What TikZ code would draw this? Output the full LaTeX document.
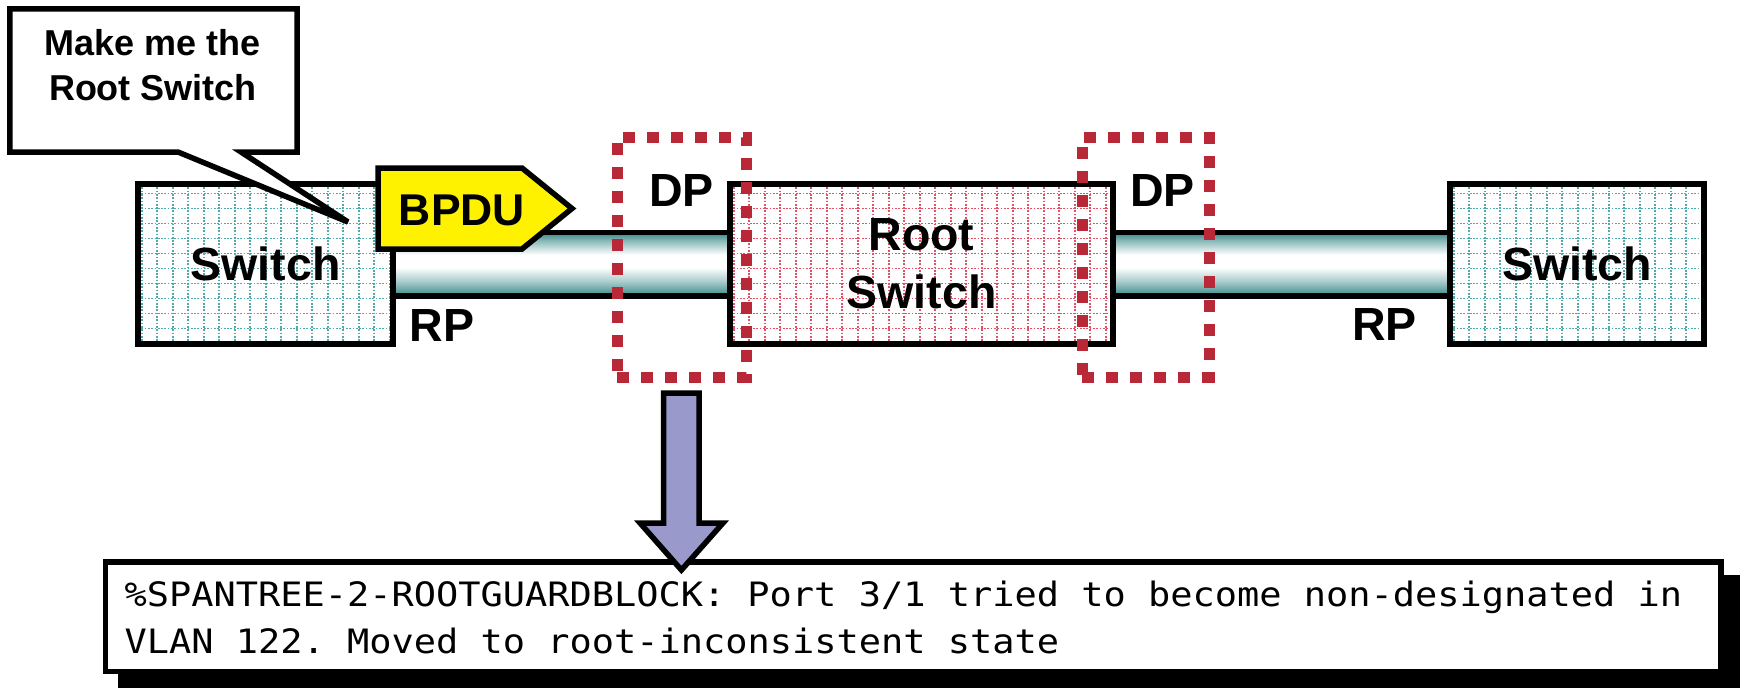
\documentclass[tikz,border=0pt]{standalone}
\usepackage{fontspec}
\setmainfont{Liberation Sans}
\newfontfamily\msgfont{DejaVu Sans Mono}[FakeStretch=1.1]
\usetikzlibrary{calc}
\definecolor{pteal}{RGB}{55,135,135}
\definecolor{gridteal}{RGB}{80,170,170}
\definecolor{gridred}{RGB}{225,80,100}
\definecolor{dpred}{RGB}{185,40,55}
\definecolor{arrowfill}{RGB}{153,153,204}
% visible range of a TikZ custom shading is 25bp..75bp (bottom..top)
\pgfdeclareverticalshading{pipeshade}{100bp}{color(0bp)=(pteal); color(25bp)=(pteal); color(36bp)=(pteal!45!white); color(47.5bp)=(white); color(57.5bp)=(white); color(68bp)=(pteal!55!white); color(75bp)=(pteal); color(100bp)=(pteal)}
\pgfdeclarelayer{bg}
\pgfsetlayers{bg,main}
\tikzset{
  blk/.style={draw=black, line width=2.2pt},
  gridline/.style={line width=0.64pt, dash pattern=on 0.68pt off 0.64pt},
  boxbase/.style={blk, rectangle, fill=white, inner sep=0pt, outer sep=0pt, align=center,
    font=\fontsize{18.6}{23.2}\selectfont\bfseries},
  gridded/.style={path picture={
    \foreach \i in {0,...,26} {\draw[gridline, #1] ($(path picture bounding box.north west)+(3.7+15.5*\i,0)$) -- ++(0,170);}
    \foreach \j in {0,...,11} {\draw[gridline, #1] ($(path picture bounding box.north west)+(0,9.3+15*\j)$) -- ++(420,0);}
  }},
  tealbox/.style={boxbase, gridded=gridteal},
  redbox/.style={boxbase, gridded=gridred},
  dpbox/.style={draw=dpred, line width=4.4pt, dash pattern=on 4.7pt off 4.9pt, rectangle,
    inner sep=0pt, outer sep=0pt},
  lbl/.style={anchor=base, inner sep=0pt, font=\fontsize{18.6}{22}\selectfont\bfseries},
  msgtext/.style={anchor=base west, inner sep=0pt, font=\msgfont\fontsize{13.44}{18.5}\selectfont\frenchspacing},
}
\begin{document}
\begin{tikzpicture}[x=0.4pt,y=-0.4pt]
\useasboundingbox (0,0) rectangle (1743,687);
% message box with shadow
\fill[black] (118.25,574.75) rectangle (1739.5,689.75);
\node[blk, rectangle, fill=white, inner sep=0pt, outer sep=0pt, minimum width=646.2pt, minimum height=43.8pt] (msg) at (913.25,616.75) {};
\node[msgtext] (msgA) at (124,606.7) {\%SPANTREE-2-ROOTGUARDBLOCK: Port 3/1 tried to become non-designated in};
\node[msgtext] (msgB) at (124,653) {VLAN 122. Moved to root-inconsistent state};
% switches
\node[tealbox, minimum width=102pt, minimum height=64pt] (lsw) at (265.5,264) {Switch};
\node[redbox, minimum width=153.2pt, minimum height=64pt] (root) at (921.5,264) {Root\\Switch};
\node[tealbox, minimum width=101.6pt, minimum height=64pt] (rsw) at (1577,264) {Switch};
% pipes
\coordinate (ptop) at (0,232.5);
\coordinate (pbot) at (0,296);
\begin{pgfonlayer}{bg}
\shade[shading=pipeshade] (lsw.east |- ptop) rectangle (root.west |- pbot);
\shade[shading=pipeshade] (root.east |- ptop) rectangle (rsw.west |- pbot);
\draw[blk] (lsw.east |- ptop) -- (root.west |- ptop) (lsw.east |- pbot) -- (root.west |- pbot);
\draw[blk] (root.east |- ptop) -- (rsw.west |- ptop) (root.east |- pbot) -- (rsw.west |- pbot);
\end{pgfonlayer}
% callout
\coordinate (tip) at (348,222);
\draw[blk, fill=white] (9.8,8.8) -- (297,8.8) -- (297,152) -- (241,152) -- (tip) -- (178,152) -- (9.8,152) -- cycle;
\node[anchor=north, inner sep=0pt, align=center, font=\fontsize{14.4}{18}\selectfont\bfseries] (calltxt) at (153,29.2) {Make me the\\Root Switch};
% BPDU
\draw[blk, fill=yellow] (378,168) -- (522,168) -- (572,208.5) -- (522,249) -- (378,249) -- cycle;
\node[lbl, font=\fontsize{17.8}{21}\selectfont\bfseries] (bpdu) at (462,225) {BPDU};
% labels
\node[lbl] (rpL) at (442,341.7) {RP};
\node[lbl] (rpR) at (1384.5,340) {RP};
\node[lbl] (dpLt) at (681.6,206.7) {DP};
\node[lbl] (dpRt) at (1162.5,206.7) {DP};
% DP dotted boxes
\node[dpbox, minimum width=51.6pt, minimum height=96pt] (dpL) at (681.5,257) {};
\node[dpbox, minimum width=50.8pt, minimum height=96pt] (dpR) at (1145.5,257) {};
% arrow
\draw[blk, fill=arrowfill] (663.6,393) -- (699.2,393) -- (699.2,523) -- (723,523) -- (681.4,570) -- (640,523) -- (663.6,523) -- cycle;
\end{tikzpicture}
\end{document}
